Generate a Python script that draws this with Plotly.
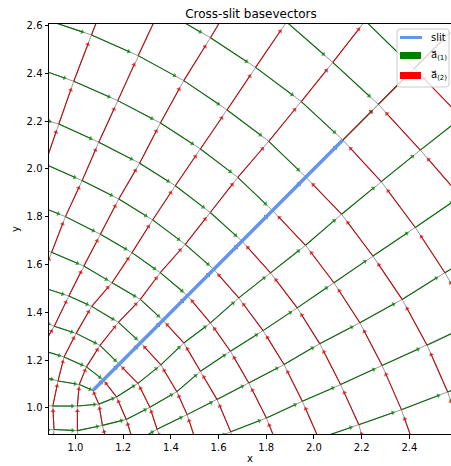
import plotly.graph_objects as go

# ---------------- data (node positions) ----------------
slit_x = [1.073, 2.121]
slit_y = [1.073, 2.121]

# red coordinate lines (a_(2)), nodes ordered along increasing u2
red_x = [
    [0.765, 0.81, 0.872, 0.930, 0.9929, 1.067, 1.145],
    [0.80, 0.845, 0.90, 0.9579, 1.0278, 1.0977, 1.1774, 1.2626, 1.355],
    [0.78, 0.80, 0.853, 0.911, 0.9721, 1.0349, 1.1046, 1.1816, 1.269, 1.3563, 1.4541, 1.566, 1.68],
    [0.90, 0.91, 0.905, 0.927, 0.952, 1.003, 1.068, 1.1534, 1.2371, 1.3236, 1.4188, 1.524, 1.6358, 1.755, 1.885],
    [1.022, 1.008, 1.008, 1.016, 1.046, 1.103, 1.180, 1.272, 1.3556, 1.4603, 1.5652, 1.6806, 1.8105, 1.947, 2.079, 2.215],
    [1.146, 1.113, 1.098, 1.073, 1.117, 1.183, 1.273, 1.367, 1.470, 1.580, 1.698, 1.826, 1.966, 2.121, 2.270, 2.420, 2.570],
    [1.265, 1.244, 1.213, 1.172, 1.117],
    [1.39, 1.342, 1.312, 1.262, 1.183],
    [1.51, 1.468, 1.425, 1.358, 1.273],
    [1.69, 1.651, 1.5938, 1.524, 1.4541, 1.367],
    [1.86, 1.8005, 1.7266, 1.6498, 1.5659, 1.470],
    [2.02, 1.9512, 1.8745, 1.7867, 1.6847, 1.580],
    [2.24, 2.1883, 2.1116, 2.024, 1.9298, 1.8178, 1.698],
    [2.435, 2.3668, 2.2859, 2.1925, 2.0837, 1.9648, 1.826],
    [2.625, 2.5607, 2.4742, 2.3696, 2.2469, 2.1158, 1.966],
    [2.67, 2.549, 2.425, 2.282, 2.121],
    [2.74, 2.615, 2.446, 2.270],
    [2.62, 2.420],
]
red_y = [
    [1.69, 1.86, 2.02, 2.1883, 2.3668, 2.5607, 2.76],
    [1.39, 1.51, 1.651, 1.8005, 1.9512, 2.1116, 2.2859, 2.4742, 2.67],
    [1.022, 1.146, 1.244, 1.342, 1.468, 1.5938, 1.7266, 1.8745, 2.024, 2.1925, 2.3696, 2.549, 2.74],
    [0.79, 0.91, 1.008, 1.113, 1.213, 1.312, 1.425, 1.524, 1.6498, 1.7867, 1.9298, 2.0837, 2.2469, 2.425, 2.615],
    [0.78, 0.905, 1.008, 1.098, 1.172, 1.262, 1.358, 1.4541, 1.5659, 1.6847, 1.8178, 1.9648, 2.1158, 2.282, 2.446, 2.62],
    [0.80, 0.927, 1.016, 1.073, 1.117, 1.183, 1.273, 1.367, 1.470, 1.580, 1.698, 1.826, 1.966, 2.121, 2.270, 2.420, 2.570],
    [0.74, 0.853, 0.952, 1.046, 1.117],
    [0.80, 0.911, 1.003, 1.103, 1.183],
    [0.845, 0.9721, 1.068, 1.180, 1.273],
    [0.765, 0.90, 1.0349, 1.1534, 1.272, 1.367],
    [0.81, 0.9579, 1.1046, 1.2371, 1.3556, 1.470],
    [0.872, 1.0278, 1.1816, 1.3236, 1.4603, 1.580],
    [0.74, 0.930, 1.0977, 1.269, 1.4188, 1.5652, 1.698],
    [0.80, 0.9929, 1.1774, 1.3563, 1.524, 1.6806, 1.826],
    [0.875, 1.067, 1.2626, 1.4541, 1.6358, 1.8105, 1.966],
    [1.355, 1.566, 1.755, 1.947, 2.121],
    [1.68, 1.885, 2.079, 2.270],
    [2.215, 2.420],
]

# green coordinate lines (a_(1)), nodes ordered along increasing u1
green_x = [
    [1.69, 1.86, 2.02, 2.1883, 2.3668, 2.5607, 2.76],
    [1.39, 1.51, 1.651, 1.8005, 1.9512, 2.1116, 2.2859, 2.4742, 2.67],
    [1.022, 1.146, 1.244, 1.342, 1.468, 1.5938, 1.7266, 1.8745, 2.024, 2.1925, 2.3696, 2.549, 2.74],
    [0.79, 0.91, 1.008, 1.113, 1.213, 1.312, 1.425, 1.524, 1.6498, 1.7867, 1.9298, 2.0837, 2.2469, 2.425, 2.615],
    [0.78, 0.905, 1.008, 1.098, 1.172, 1.262, 1.358, 1.4541, 1.5659, 1.6847, 1.8178, 1.9648, 2.1158, 2.282, 2.446, 2.62],
    [0.80, 0.927, 1.016, 1.073, 1.117, 1.183, 1.273, 1.367, 1.470, 1.580, 1.698, 1.826, 1.966, 2.121, 2.270, 2.420, 2.570],
    [0.74, 0.853, 0.952, 1.046, 1.117],
    [0.80, 0.911, 1.003, 1.103, 1.183],
    [0.845, 0.9721, 1.068, 1.180, 1.273],
    [0.765, 0.90, 1.0349, 1.1534, 1.272, 1.367],
    [0.81, 0.9579, 1.1046, 1.2371, 1.3556, 1.470],
    [0.872, 1.0278, 1.1816, 1.3236, 1.4603, 1.580],
    [0.74, 0.930, 1.0977, 1.269, 1.4188, 1.5652, 1.698],
    [0.80, 0.9929, 1.1774, 1.3563, 1.524, 1.6806, 1.826],
    [0.875, 1.067, 1.2626, 1.4541, 1.6358, 1.8105, 1.966],
    [1.355, 1.566, 1.755, 1.947, 2.121],
    [1.68, 1.885, 2.079, 2.270],
    [2.215, 2.420],
]
green_y = [
    [0.765, 0.81, 0.872, 0.930, 0.9929, 1.067, 1.145],
    [0.80, 0.845, 0.90, 0.9579, 1.0278, 1.0977, 1.1774, 1.2626, 1.355],
    [0.78, 0.80, 0.853, 0.911, 0.9721, 1.0349, 1.1046, 1.1816, 1.269, 1.3563, 1.4541, 1.566, 1.68],
    [0.90, 0.91, 0.905, 0.927, 0.952, 1.003, 1.068, 1.1534, 1.2371, 1.3236, 1.4188, 1.524, 1.6358, 1.755, 1.885],
    [1.022, 1.008, 1.008, 1.016, 1.046, 1.103, 1.180, 1.272, 1.3556, 1.4603, 1.5652, 1.6806, 1.8105, 1.947, 2.079, 2.215],
    [1.146, 1.113, 1.098, 1.073, 1.117, 1.183, 1.273, 1.367, 1.470, 1.580, 1.698, 1.826, 1.966, 2.121, 2.270, 2.420, 2.570],
    [1.265, 1.244, 1.213, 1.172, 1.117],
    [1.39, 1.342, 1.312, 1.262, 1.183],
    [1.51, 1.468, 1.425, 1.358, 1.273],
    [1.69, 1.651, 1.5938, 1.524, 1.4541, 1.367],
    [1.86, 1.8005, 1.7266, 1.6498, 1.5659, 1.470],
    [2.02, 1.9512, 1.8745, 1.7867, 1.6847, 1.580],
    [2.24, 2.1883, 2.1116, 2.024, 1.9298, 1.8178, 1.698],
    [2.435, 2.3668, 2.2859, 2.1925, 2.0837, 1.9648, 1.826],
    [2.625, 2.5607, 2.4742, 2.3696, 2.2469, 2.1158, 1.966],
    [2.67, 2.549, 2.425, 2.282, 2.121],
    [2.74, 2.615, 2.446, 2.270],
    [2.62, 2.420],
]

x_ticks = [1.0, 1.2, 1.4, 1.6, 1.8, 2.0, 2.2, 2.4]
y_ticks = [1.0, 1.2, 1.4, 1.6, 1.8, 2.0, 2.2, 2.4, 2.6]
x_range = [0.889, 2.5746]
y_range = [0.891, 2.6065]

# ---------------- layout constants ----------------
W, H = 451, 466
ML, MT, MR, MB = 49, 24, 0, 32
PW, PH = W - ML - MR, H - MT - MB
FONT = "DejaVu Sans"


def px2paper(px, py):
    return (px - ML) / PW, 1 - (py - MT) / PH


def polyline(xs_list, ys_list):
    X, Y = [], []
    for xs, ys in zip(xs_list, ys_list):
        X += list(xs) + [None]
        Y += list(ys) + [None]
    return X, Y


def arrows(xs_list, ys_list, frac=0.8):
    X, Y, S = [], [], []
    for xs, ys in zip(xs_list, ys_list):
        for i in range(len(xs) - 1):
            x0, y0, x1, y1 = xs[i], ys[i], xs[i + 1], ys[i + 1]
            X += [x0, x0 + frac * (x1 - x0), None]
            Y += [y0, y0 + frac * (y1 - y0), None]
            S += [0, 4.5, 0]
    return X, Y, S


fig = go.Figure()

for xs_l, ys_l in ((green_x, green_y), (red_x, red_y)):
    gx, gy = polyline(xs_l, ys_l)
    fig.add_trace(go.Scatter(x=gx, y=gy, mode="lines",
                             line=dict(color="#8c8c8c", width=0.9),
                             hoverinfo="skip", showlegend=False))

for xs_l, ys_l, shaft, head in ((green_x, green_y, "#0d6a0d", "#008000"),
                                (red_x, red_y, "#b80f0f", "#e00000")):
    ax_, ay_, sz = arrows(xs_l, ys_l)
    fig.add_trace(go.Scatter(x=ax_, y=ay_, mode="lines",
                             line=dict(color=shaft, width=1.1),
                             hoverinfo="skip", showlegend=False))
    fig.add_trace(go.Scatter(x=ax_, y=ay_, mode="markers",
                             marker=dict(symbol="triangle-up", size=sz, color=head,
                                         angleref="previous", line=dict(width=0)),
                             hoverinfo="skip", showlegend=False))

fig.add_trace(go.Scatter(x=slit_x, y=slit_y, mode="lines",
                         line=dict(color="#6495ED", width=3.5),
                         hoverinfo="skip", showlegend=False))

# ---------------- manual legend ----------------
shapes = []
x0, y0 = px2paper(397, 29)
x1, y1 = px2paper(449, 87)
rx, ry = 3 / PW, 3 / PH
path = (f"M{x0+rx},{y0} L{x1-rx},{y0} Q{x1},{y0} {x1},{y0-ry} "
        f"L{x1},{y1+ry} Q{x1},{y1} {x1-rx},{y1} L{x0+rx},{y1} "
        f"Q{x0},{y1} {x0},{y1+ry} L{x0},{y0-ry} Q{x0},{y0} {x0+rx},{y0} Z")
shapes.append(dict(type="path", xref="paper", yref="paper", path=path,
                   fillcolor="rgba(255,255,255,0.8)",
                   line=dict(color="#cccccc", width=1), layer="above"))
lx0, ly = px2paper(400, 37.5)
lx1, _ = px2paper(422, 37.5)
shapes.append(dict(type="line", xref="paper", yref="paper", x0=lx0, x1=lx1,
                   y0=ly, y1=ly, line=dict(color="#6495ED", width=3), layer="above"))
for (pyc, col) in ((55.5, "#008000"), (75.5, "#ff0000")):
    a0, b0 = px2paper(400, pyc - 3.5)
    a1, b1 = px2paper(421, pyc + 3.5)
    shapes.append(dict(type="rect", xref="paper", yref="paper", x0=a0, x1=a1,
                       y0=b1, y1=b0, fillcolor=col, line=dict(width=0), layer="above"))

annotations = []
for txt, pyc in (("slit", 37.5), ("a\u20d7<sub>(1)</sub>", 55.5), ("a\u20d7<sub>(2)</sub>", 75.5)):
    tx, ty = px2paper(429, pyc)
    annotations.append(dict(x=tx, y=ty, xref="paper", yref="paper", text=txt,
                            showarrow=False, xanchor="left", yanchor="middle",
                            font=dict(family=FONT, size=10, color="#000")))
# axis labels
tx, ty = px2paper(250, 458)
annotations.append(dict(x=tx, y=ty, xref="paper", yref="paper", text="x", showarrow=False,
                        xanchor="center", yanchor="middle",
                        font=dict(family=FONT, size=10, color="#000")))
tx, ty = px2paper(15, 229)
annotations.append(dict(x=tx, y=ty, xref="paper", yref="paper", text="y", showarrow=False,
                        xanchor="center", yanchor="middle", textangle=-90,
                        font=dict(family=FONT, size=10, color="#000")))

fig.update_layout(
    width=W, height=H,
    margin=dict(l=ML, r=MR, t=MT, b=MB),
    paper_bgcolor="white", plot_bgcolor="white",
    title=dict(text="Cross-slit basevectors", x=251 / W, xanchor="center",
               y=1 - 14 / H, yanchor="middle",
               font=dict(family=FONT, size=12, color="#000")),
    xaxis=dict(range=x_range, tickvals=x_ticks, ticktext=[f"{v:.1f}" for v in x_ticks],
               showgrid=False, zeroline=False, showline=True, mirror=True,
               linecolor="#000", linewidth=1, ticks="outside", ticklen=3.5,
               tickwidth=0.8, tickcolor="#000",
               tickfont=dict(family=FONT, size=10, color="#000")),
    yaxis=dict(range=y_range, tickvals=y_ticks, ticktext=[f"{v:.1f}" for v in y_ticks],
               showgrid=False, zeroline=False, showline=True, mirror=False,
               linecolor="#000", linewidth=1, ticks="outside", ticklen=3.5,
               tickwidth=0.8, tickcolor="#000",
               tickfont=dict(family=FONT, size=10, color="#000")),
    shapes=shapes, annotations=annotations,
    showlegend=False,
)

fig.write_html("out.html", config={"displayModeBar": False},
               post_script="document.body.style.margin='0px';")
